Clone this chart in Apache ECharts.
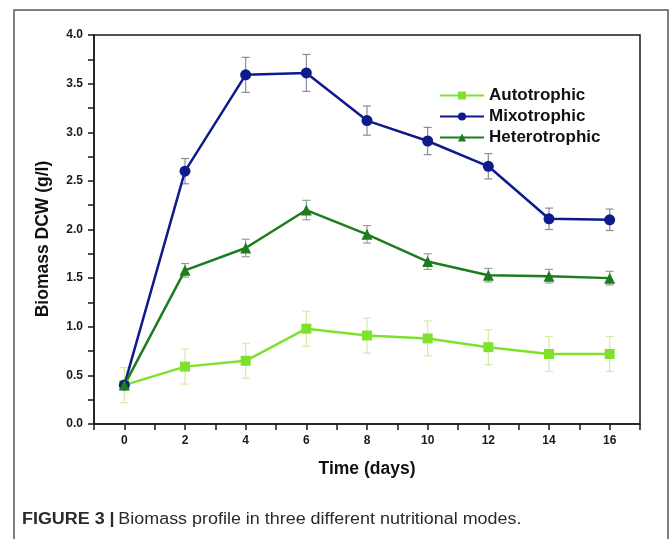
<!DOCTYPE html>
<html>
<head>
<meta charset="utf-8">
<script src="https://cdn.jsdelivr.net/npm/echarts@6/dist/echarts.min.js"></script>
<style>
  html, body { margin: 0; padding: 0; background: #fff; }
  #chart { width: 669px; height: 539px; }
</style>
</head>
<body>
<div id="chart"></div>
<script>
// Sampling days
const days = [0, 2, 4, 6, 8, 10, 12, 14, 16];

// Biomass DCW (g/l) per nutritional mode, with standard deviations
const autotrophic = [0.40, 0.59, 0.65, 0.98, 0.91, 0.88, 0.79, 0.72, 0.72];
const autotrophicErr = [0.18, 0.18, 0.18, 0.18, 0.18, 0.18, 0.18, 0.18, 0.18];

const mixotrophic = [0.40, 2.60, 3.59, 3.61, 3.12, 2.91, 2.65, 2.11, 2.10];
const mixotrophicErr = [0.00, 0.13, 0.18, 0.19, 0.15, 0.14, 0.13, 0.11, 0.11];

const heterotrophic = [0.40, 1.58, 1.81, 2.20, 1.95, 1.67, 1.53, 1.52, 1.50];
const heterotrophicErr = [0.00, 0.07, 0.09, 0.10, 0.09, 0.08, 0.07, 0.07, 0.07];

const seriesNames = ['Autotrophic', 'Mixotrophic', 'Heterotrophic'];
const lineColors = ['#7ee22c', '#0e1b8c', '#1d7c1d'];
const errColors = ['#d5eaa6', '#8c8c98', '#8fa58f'];

const font = 'Liberation Sans, Arial, sans-serif';

const chart = echarts.init(document.getElementById('chart'));

function pairs(vals) {
  return days.map((d, i) => [d, vals[i]]);
}
function errData(vals, errs) {
  return days.map((d, i) => [d, vals[i] - errs[i], vals[i] + errs[i]]);
}
function errSeries(vals, errs, color) {
  return {
    type: 'custom',
    silent: true,
    z: 1,
    data: errData(vals, errs),
    renderItem: function (params, api) {
      const lo = api.coord([api.value(0), api.value(1)]);
      const hi = api.coord([api.value(0), api.value(2)]);
      const cap = 4;
      const style = { stroke: color, lineWidth: 1.2 };
      return {
        type: 'group',
        children: [
          { type: 'line', shape: { x1: lo[0], y1: lo[1], x2: hi[0], y2: hi[1] }, style: style },
          { type: 'line', shape: { x1: lo[0] - cap, y1: lo[1], x2: lo[0] + cap, y2: lo[1] }, style: style },
          { type: 'line', shape: { x1: hi[0] - cap, y1: hi[1], x2: hi[0] + cap, y2: hi[1] }, style: style }
        ]
      };
    }
  };
}
function lineSeries(name, vals, color, symbol, size) {
  return {
    name: name,
    type: 'line',
    z: 3,
    data: pairs(vals),
    symbol: symbol,
    symbolSize: size,
    lineStyle: { color: color, width: 2.5 },
    itemStyle: { color: color },
    emphasis: { disabled: true }
  };
}

const tickFont = { fontFamily: font, fontWeight: 'bold', fontSize: 12, color: '#1a1a1a' };

chart.setOption({
  animation: false,
  backgroundColor: '#fff',
  grid: {
    left: 94, right: 29, top: 35, bottom: 115,
    show: true, borderColor: '#1a1a1a', borderWidth: 1.5, backgroundColor: 'transparent'
  },
  legend: {
    data: seriesNames,
    orient: 'vertical',
    left: 434, top: 82,
    itemWidth: 44, itemHeight: 10, itemGap: 4,
    textStyle: { fontFamily: font, fontWeight: 'bold', fontSize: 17, color: '#111' }
  },
  xAxis: {
    type: 'value',
    min: -1, max: 17, interval: 1,
    name: 'Time (days)',
    nameLocation: 'middle',
    nameGap: 36,
    nameTextStyle: { fontFamily: font, fontWeight: 'bold', fontSize: 17.5, color: '#111' },
    axisLine: { onZero: false, lineStyle: { color: '#1a1a1a', width: 1.5 } },
    axisTick: { inside: false, length: 6, lineStyle: { color: '#1a1a1a', width: 1.5 } },
    axisLabel: Object.assign({ margin: 11, formatter: v => (v >= 0 && v % 2 === 0 ? String(v) : '') }, tickFont),
    splitLine: { show: false }
  },
  yAxis: {
    type: 'value',
    min: 0, max: 4, interval: 0.25,
    axisLine: { show: true, onZero: false, lineStyle: { color: '#1a1a1a', width: 1.5 } },
    axisTick: { show: true, inside: false, length: 6, lineStyle: { color: '#1a1a1a', width: 1.5 } },
    axisLabel: Object.assign({
      margin: 11,
      formatter: v => (Math.abs(v * 2 - Math.round(v * 2)) < 1e-6 ? v.toFixed(1) : '')
    }, tickFont),
    splitLine: { show: false }
  },
  series: [
    errSeries(autotrophic, autotrophicErr, errColors[0]),
    errSeries(mixotrophic, mixotrophicErr, errColors[1]),
    errSeries(heterotrophic, heterotrophicErr, errColors[2]),
    lineSeries(seriesNames[0], autotrophic, lineColors[0], 'rect', 10),
    lineSeries(seriesNames[1], mixotrophic, lineColors[1], 'circle', 11),
    lineSeries(seriesNames[2], heterotrophic, lineColors[2], 'triangle', 11)
  ],
  graphic: [
    {
      type: 'rect',
      shape: { x: 14, y: 10, width: 654, height: 540 },
      style: { fill: 'none', stroke: '#555', lineWidth: 1.5 },
      silent: true
    },
    {
      // vertical axis title
      type: 'text',
      x: 43, y: 239,
      rotation: Math.PI / 2,
      style: {
        text: 'Biomass DCW (g/l)',
        fontFamily: font, fontWeight: 'bold', fontSize: 17.5, fill: '#111',
        align: 'center', verticalAlign: 'middle'
      },
      silent: true
    },
    {
      type: 'text',
      x: 22, y: 512,
      scaleX: 1.12,
      style: {
        text: '{b|FIGURE 3 |} {n|Biomass profile in three different nutritional modes.}',
        rich: {
          b: { fontFamily: font, fontWeight: 'bold', fontSize: 16, fill: '#2a2a2a' },
          n: { fontFamily: font, fontSize: 16, fill: '#2a2a2a' }
        }
      },
      silent: true
    }
  ]
});
</script>
</body>
</html>
